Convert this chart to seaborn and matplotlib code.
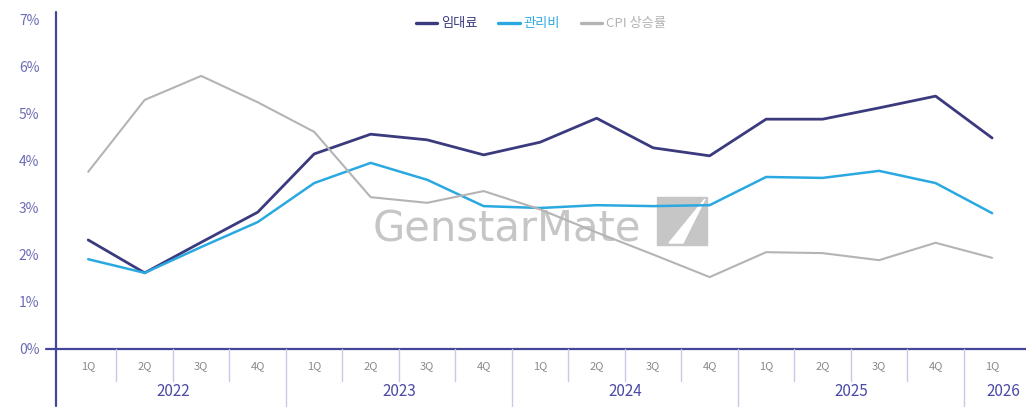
import numpy as np
import pandas as pd
import matplotlib
matplotlib.use('Agg')
import matplotlib.pyplot as plt
import seaborn as sns

# dane (%)
kwartaly = ['1Q', '2Q', '3Q', '4Q'] * 4 + ['1Q']
lata = ['2022', '2023', '2024', '2025', '2026']
rent = [2.32, 1.62, 2.27, 2.91, 4.15, 4.57, 4.45, 4.13, 4.40, 4.91, 4.28, 4.11,
        4.89, 4.89, 5.13, 5.38, 4.49]
mgmt = [1.91, 1.62, 2.17, 2.70, 3.53, 3.96, 3.60, 3.04, 3.00, 3.06, 3.04, 3.06,
        3.66, 3.64, 3.79, 3.53, 2.89]
cpi = [3.77, 5.30, 5.81, 5.25, 4.62, 3.23, 3.11, 3.36, 2.97, 2.48, 2.01, 1.53,
       2.06, 2.04, 1.89, 2.26, 1.94]
serie = ['임대료', '관리비', 'CPI 상승률']
kolory = {'임대료': '#3b3a7e', '관리비': '#2aa9e0', 'CPI 상승률': '#b4b4b4'}
grubosc = {'임대료': 2.0, '관리비': 1.8, 'CPI 상승률': 1.5}

sns.set_style('white')
plt.rcParams['font.family'] = ['Noto Sans CJK KR', 'DejaVu Sans']

n = len(kwartaly)
df = pd.DataFrame({'x': list(range(n)) * 3,
                   'wartosc': rent + mgmt + cpi,
                   'seria': [s for s in serie for _ in range(n)]})

fig = plt.figure(figsize=(10.26, 4.07), dpi=100)
ax = fig.add_axes([56 / 1026, 58 / 407, 970 / 1026, 337 / 407])

for s in serie:
    sns.lineplot(data=df[df['seria'] == s], x='x', y='wartosc', ax=ax,
                 color=kolory[s], linewidth=grubosc[s], label=s, zorder=3)

ax.set_xlim(-0.57, 16.6)
ax.set_ylim(0, 7.17)
ax.set_xlabel('')
ax.set_ylabel('')

os_kolor = '#45459a'
for sp in ['top', 'right', 'bottom', 'left']:
    ax.spines[sp].set_visible(False)
ax.plot([0, 0], [-0.17, 1], transform=ax.transAxes, color=os_kolor, lw=1.6, clip_on=False)
ax.plot([-0.01, 1], [0, 0], transform=ax.transAxes, color=os_kolor, lw=1.6, clip_on=False)

ax.set_yticks(np.arange(0, 8, 1))
ax.set_yticklabels([f'{v}%' for v in range(8)], color='#6c6cb4', fontsize=10)
ax.tick_params(axis='y', length=0, pad=12)
ax.set_xticks(range(n))
ax.set_xticklabels(kwartaly, color='#8a8a8a', fontsize=8)
ax.tick_params(axis='x', length=0, pad=9)

# linie podziału kwartałów i lat
for i in range(n - 1):
    rok = (i + 1) % 4 == 0
    ax.plot([i + 0.5, i + 0.5], [0, -0.17 if rok else -0.095],
            transform=ax.get_xaxis_transform(), color='#c9c9e6', lw=1, clip_on=False)

poz_lat = [1.5, 5.5, 9.5, 13.5, 16.2]
for p, rok in zip(poz_lat, lata):
    ax.text(p, -0.125, rok, transform=ax.get_xaxis_transform(), ha='center', va='center',
            color='#4a4aa6', fontsize=11, fontweight='medium')

# znak wodny pod liniami
ax.text(507 / 1026, 1 - 230 / 407, 'GenstarMate', transform=fig.transFigure,
        ha='center', va='center', fontsize=30, color='#c6c6c6', family='DejaVu Sans',
        zorder=1)
ax.add_patch(plt.Rectangle((657 / 1026, 1 - 245 / 407), 50 / 1026, 48 / 407,
                           transform=fig.transFigure, color='#c6c6c6', zorder=1,
                           clip_on=False))
ax.add_patch(plt.Polygon([(669 / 1026, 1 - 243 / 407), (705 / 1026, 1 - 199 / 407),
                          (683 / 1026, 1 - 243 / 407)],
                         transform=fig.transFigure, color='white', zorder=1.1,
                         clip_on=False))

leg = ax.legend(loc='upper center', bbox_to_anchor=(0.5, 1.02), ncol=3, frameon=False,
                fontsize=9.5, handlelength=1.6, handletextpad=0.3, columnspacing=1.6)
for t, s in zip(leg.get_texts(), serie):
    t.set_color(kolory[s])
for l in leg.get_lines():
    l.set_linewidth(2.4)

fig.savefig('out.png', dpi=100)
